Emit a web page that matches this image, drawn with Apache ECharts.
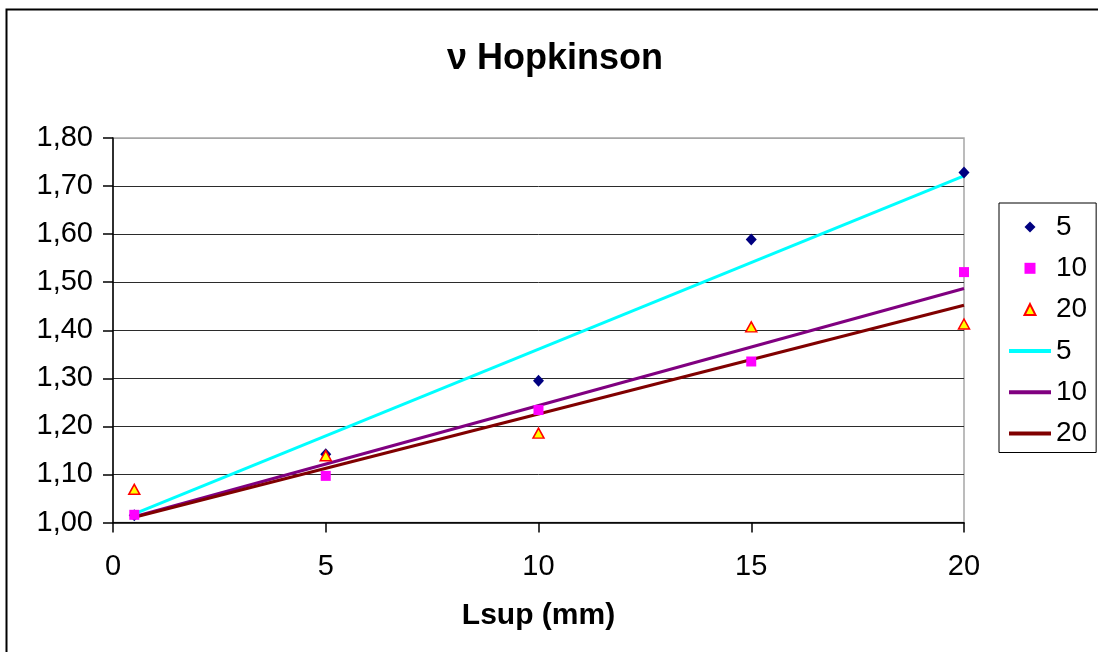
<!DOCTYPE html>
<html>
<head>
<meta charset="utf-8">
<title>ν Hopkinson</title>
<script src="https://cdn.jsdelivr.net/npm/echarts@6/dist/echarts.min.js"></script>
<style>
  html, body { margin: 0; padding: 0; background: #fff; }
  #chart { width: 1098px; height: 652px; }
</style>
</head>
<body>
<div id="chart"></div>
<script>
// Lsup (mm) positions of the measurements
const lsup = [0.5, 5, 10, 15, 20];

// Measured ν for each series
const nu5  = [1.015, 1.142, 1.295, 1.589, 1.728];
const nu10 = [1.016, 1.097, 1.234, 1.335, 1.521];
const nu20 = [1.069, 1.139, 1.186, 1.407, 1.413];

// Linear trend lines, given by their end points
const trendX   = [0.5, 20];
const trend5   = [1.018, 1.721];
const trend10  = [1.012, 1.487];
const trend20  = [1.011, 1.452];

// Axis ticks
const xTicks = [0, 5, 10, 15, 20];
const yMin = 1.0, yMax = 1.8, yStep = 0.1;

const FONT = 'Arial, "Liberation Sans", sans-serif';

const pairs = (xs, ys) => xs.map((x, i) => [x, ys[i]]);

// marker outlines as paths so the legend keeps their proportions
const ICON_DIAMOND  = 'path://M5,0 L10,5 L5,10 L0,5 Z';
const ICON_SQUARE   = 'path://M0,0 L10,0 L10,10 L0,10 Z';
const ICON_TRIANGLE = 'path://M5,0 L10,10 L0,10 Z';

// legend entries of the trend lines show the stroke only
const LINE_ONLY = { color: 'rgba(0,0,0,0)', borderColor: 'rgba(0,0,0,0)', borderWidth: 0 };

const chart = echarts.init(document.getElementById('chart'), null, { renderer: 'canvas' });

// grid lines: dark inside, grey along the top edge of the plot area
const gridColors = [];
for (let v = yMin; v <= yMax + 1e-9; v += yStep) {
  gridColors.push(Math.abs(v - yMax) < 1e-9 ? '#a6a6a6' : '#2b2b2b');
}

const option = {
  animation: false,
  backgroundColor: '#ffffff',
  title: {
    text: 'ν Hopkinson',
    left: 550,
    top: 36,
    textAlign: 'center',
    textStyle: { fontFamily: FONT, fontSize: 36, fontWeight: 'bold', color: '#000' }
  },
  grid: {
    left: 113, right: 134, top: 138, bottom: 129.5,
    show: true, borderColor: '#a6a6a6', borderWidth: 1.5, backgroundColor: 'transparent'
  },
  legend: {
    orient: 'vertical',
    left: 999,
    top: 203,
    padding: [8, 9, 3, 8],
    borderColor: '#000',
    borderWidth: 1,
    backgroundColor: '#fff',
    itemWidth: 42,
    itemHeight: 11,
    itemGap: 9.3,
    itemTextGap: 7,
    selectedMode: false,
    data: [
      { name: 'pts 5', icon: ICON_DIAMOND },
      { name: 'pts 10', icon: ICON_SQUARE },
      { name: 'pts 20', icon: ICON_TRIANGLE },
      { name: 'trend 5', itemStyle: LINE_ONLY, lineStyle: { width: 4 } },
      { name: 'trend 10', itemStyle: LINE_ONLY, lineStyle: { width: 4 } },
      { name: 'trend 20', itemStyle: LINE_ONLY, lineStyle: { width: 4 } }
    ],
    formatter: name => name.split(' ')[1],
    textStyle: { fontFamily: FONT, fontSize: 28, color: '#000', lineHeight: 32 }
  },
  xAxis: {
    type: 'value',
    min: 0, max: 20, interval: 5,
    name: 'Lsup (mm)',
    nameLocation: 'middle',
    nameGap: 78,
    nameTextStyle: { fontFamily: FONT, fontSize: 30, fontWeight: 'bold', color: '#000' },
    axisLine: { show: true, onZero: false, lineStyle: { color: '#000', width: 1.5 } },
    axisTick: { show: true, inside: false, length: 10, lineStyle: { color: '#000', width: 1.5 } },
    axisLabel: { fontFamily: FONT, fontSize: 29, color: '#000', margin: 30,
      formatter: v => xTicks.includes(v) ? String(v) : '' },
    splitLine: { show: false }
  },
  yAxis: {
    type: 'value',
    min: yMin, max: yMax, interval: yStep,
    axisLine: { show: true, lineStyle: { color: '#000', width: 1.5 } },
    axisTick: { show: true, inside: false, length: 10, lineStyle: { color: '#000', width: 1.5 } },
    axisLabel: { fontFamily: FONT, fontSize: 29, color: '#000', margin: 20,
      formatter: v => v.toFixed(2).replace('.', ',') },
    splitLine: { show: true, lineStyle: { color: gridColors, width: 1 } }
  },
  series: [
    // trend lines (drawn beneath the markers)
    { name: 'trend 5', type: 'line', data: pairs(trendX, trend5), symbol: 'none',
      lineStyle: { color: '#00ffff', width: 3 }, itemStyle: { color: '#00ffff' }, z: 2 },
    { name: 'trend 10', type: 'line', data: pairs(trendX, trend10), symbol: 'none',
      lineStyle: { color: '#800080', width: 3 }, itemStyle: { color: '#800080' }, z: 2 },
    { name: 'trend 20', type: 'line', data: pairs(trendX, trend20), symbol: 'none',
      lineStyle: { color: '#800000', width: 3 }, itemStyle: { color: '#800000' }, z: 2 },
    // measured points
    { name: 'pts 5', type: 'scatter', data: pairs(lsup, nu5), symbol: 'diamond', symbolSize: [11, 12],
      itemStyle: { color: '#000080', opacity: 1 }, z: 3 },
    { name: 'pts 10', type: 'scatter', data: pairs(lsup, nu10), symbol: 'rect', symbolSize: 10,
      itemStyle: { color: '#ff00ff', opacity: 1 }, z: 4 },
    { name: 'pts 20', type: 'scatter', data: pairs(lsup, nu20), symbol: 'triangle', symbolSize: [11, 10],
      itemStyle: { color: '#ffff00', borderColor: '#ff0000', borderWidth: 1.5, opacity: 1 }, z: 5 }
  ],
  graphic: [
    // outer chart frame
    { type: 'rect', left: 4, top: 7, shape: { x: 0, y: 0, width: 1110, height: 670 },
      style: { fill: 'none', stroke: '#000', lineWidth: 2 }, silent: true, z: 100 }
  ]
};

chart.setOption(option);
</script>
</body>
</html>
